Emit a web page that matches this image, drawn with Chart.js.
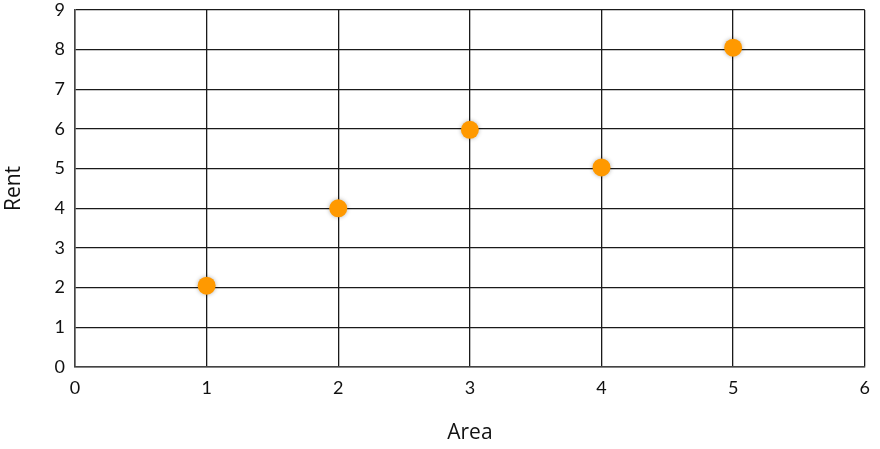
<!DOCTYPE html>
<html lang="en">
<head>
    <meta charset="UTF-8">
    <title>Rent vs Area</title>
    <script src="https://cdn.jsdelivr.net/npm/chart.js"></script>
    <style>
        body {
            margin: 0;
            background-color: #fff;
        }
    </style>
</head>
<body>
    <canvas id="chart" width="880" height="449"></canvas>

    <script>
        // Data
        const area = [1, 2, 3, 4, 5];
        const rent = [2.05, 4, 5.98, 5.03, 8.05];
        const xTicks = [0, 1, 2, 3, 4, 5, 6];
        const yTicks = [0, 1, 2, 3, 4, 5, 6, 7, 8, 9];

        const points = area.map((a, i) => ({ x: a, y: rent[i] }));

        // soft glow round the markers
        const glow = {
            id: 'glow',
            beforeDatasetDraw(chart) {
                chart.ctx.save();
                chart.ctx.shadowColor = 'rgba(0,0,0,0.3)';
                chart.ctx.shadowBlur = 4;
            },
            afterDatasetDraw(chart) {
                chart.ctx.restore();
            }
        };

        const tickFont = { family: 'Lato, sans-serif', size: 18 };

        new Chart(document.getElementById('chart'), {
            type: 'scatter',
            data: {
                datasets: [{
                    label: 'Rent',
                    data: points,
                    backgroundColor: '#FF9900',
                    borderWidth: 0,
                    pointRadius: 9,
                    pointHoverRadius: 9
                }]
            },
            options: {
                responsive: false,
                animation: false,
                layout: { padding: { top: 0, right: 12, bottom: 0, left: 0 } },
                plugins: {
                    legend: { display: false },
                    tooltip: { enabled: false }
                },
                scales: {
                    x: {
                        type: 'linear',
                        min: 0,
                        max: 6,
                        afterBuildTicks: axis => { axis.ticks = xTicks.map(v => ({ value: v })); },
                        afterFit: axis => { axis.height = 82; },
                        grid: { color: '#1a1a1a', lineWidth: 1.3, drawTicks: false },
                        border: { color: '#444', width: 1.5 },
                        ticks: { color: '#111', font: tickFont, padding: 10 },
                        title: { display: true, text: 'Area', color: '#111', font: { family: '"Open Sans", sans-serif', size: 21 }, padding: { top: 0, bottom: 3 } }
                    },
                    y: {
                        type: 'linear',
                        min: 0,
                        max: 9,
                        afterBuildTicks: axis => { axis.ticks = yTicks.map(v => ({ value: v })); },
                        afterFit: axis => { axis.width = 75; axis.paddingTop = 10; axis.paddingBottom = 0; },
                        grid: { color: '#1a1a1a', lineWidth: 1.3, drawTicks: false },
                        border: { color: '#444', width: 1.5 },
                        ticks: { color: '#111', font: tickFont, padding: 10 },
                        title: { display: true, text: 'Rent', color: '#111', font: { family: '"Open Sans", sans-serif', size: 21 }, padding: { top: 1, bottom: 0 } }
                    }
                }
            },
            plugins: [glow]
        });
    </script>
</body>
</html>
